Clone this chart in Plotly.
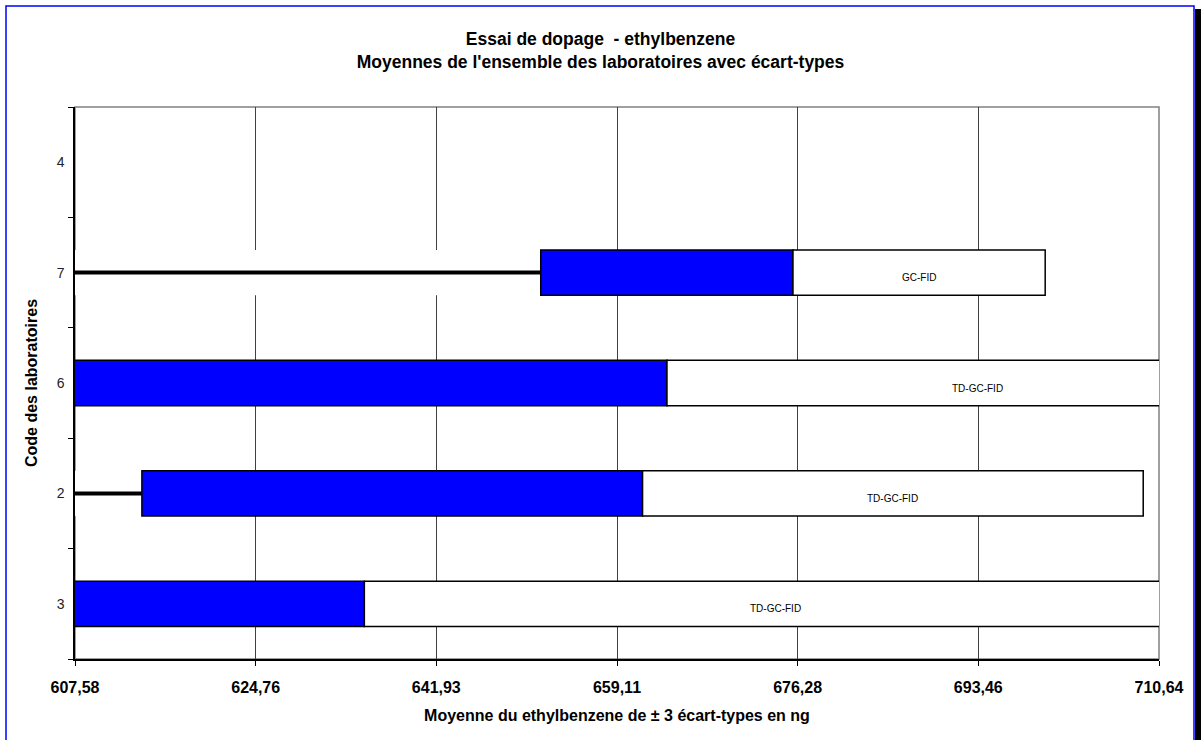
import plotly.graph_objects as go

# ---- data ----
labs = ["3", "2", "6", "7", "4"]                     # bottom -> top
means = [635.09, 661.54, 663.86, 675.84, None]       # mean (ng)
three_sd = [78.24, 47.60, 59.10, 23.98, None]        # 3 x standard deviation
methods = ["TD-GC-FID", "TD-GC-FID", "TD-GC-FID", "GC-FID", ""]
tick_vals = [607.58, 624.76, 641.93, 659.11, 676.28, 693.46, 710.64]
tick_text = ["607,58", "624,76", "641,93", "659,11", "676,28", "693,46", "710,64"]

FONT = "Arial, Liberation Sans, sans-serif"

idx_d = [i for i, m in enumerate(means) if m is not None]
lab_d = [labs[i] for i in idx_d]
mean_d = [means[i] for i in idx_d]
sd_d = [three_sd[i] for i in idx_d]
meth_d = [methods[i] for i in idx_d]
lower = [m - s for m, s in zip(mean_d, sd_d)]

fig = go.Figure()

# invisible (white) base bar from 0 up to the lower bound
fig.add_trace(go.Bar(y=lab_d, x=lower, base=[0] * len(lower), orientation="h",
                     marker=dict(color="white", line=dict(width=0)),
                     showlegend=False, hoverinfo="skip"))
# black line along the base segment
lx, ly = [], []
for l, lo in zip(lab_d, lower):
    lx += [0, lo, None]
    ly += [l, l, None]
fig.add_trace(go.Scatter(x=lx, y=ly, mode="lines", line=dict(color="black", width=4),
                         showlegend=False, hoverinfo="skip"))
# mean - 3sd -> mean (blue)
fig.add_trace(go.Bar(y=lab_d, x=sd_d, base=lower, orientation="h",
                     marker=dict(color="#0000FF", line=dict(color="black", width=1.5)),
                     showlegend=False))
# mean -> mean + 3sd (white)
fig.add_trace(go.Bar(y=lab_d, x=sd_d, base=mean_d, orientation="h",
                     marker=dict(color="white", line=dict(color="black", width=1.5)),
                     showlegend=False))

annotations = []
for i, m, s, t in zip(idx_d, mean_d, sd_d, meth_d):
    annotations.append(dict(x=m + s / 2, y=i, xref="x", yref="y", text=t, showarrow=False,
                            font=dict(family=FONT, size=10, color="black"), yshift=-5))

shapes = [
    # plot area border (gray)
    dict(type="rect", xref="paper", yref="paper", x0=0, x1=1, y0=0, y1=1,
         line=dict(color="#808080", width=1.5), layer="below"),
    # outer frame shadow
    dict(type="rect", xref="paper", yref="paper",
         x0=(1195 - 75) / 1084, x1=(1202 - 75) / 1084,
         y0=(659 - 760) / 552, y1=(659 - 9) / 552,
         line=dict(width=0), fillcolor="black", layer="above"),
    # outer frame (blue)
    dict(type="rect", xref="paper", yref="paper",
         x0=(6 - 75) / 1084, x1=(1194 - 75) / 1084,
         y0=(659 - 760) / 552, y1=(659 - 6) / 552,
         line=dict(color="#0000FF", width=1.5), layer="above"),
]

fig.update_layout(
    width=1201, height=740,
    margin=dict(l=75, r=42, t=107, b=81),
    paper_bgcolor="white", plot_bgcolor="white",
    barmode="overlay", bargap=0.59,
    font=dict(family=FONT, color="black"),
    title=dict(text="<b>Essai de dopage  - ethylbenzene<br>Moyennes de l'ensemble des laboratoires avec écart-types</b>",
               x=0.5, xref="container", xanchor="center",
               y=1 - 45 / 740, yref="container", yanchor="top",
               font=dict(family=FONT, size=17.5, color="black")),
    xaxis=dict(range=[tick_vals[0], tick_vals[-1]], tickmode="array",
               tickvals=tick_vals, ticktext=tick_text,
               tickfont=dict(family=FONT, size=16, color="black", weight="bold"),
               ticklabelstandoff=8,
               showgrid=True, gridcolor="#404040", gridwidth=1,
               showline=True, linecolor="black", linewidth=1.5,
               ticks="outside", ticklen=5, tickcolor="black", zeroline=False,
               title=dict(text="<b>Moyenne du ethylbenzene de ± 3 écart-types en ng</b>",
                          font=dict(family=FONT, size=16, color="black"), standoff=15)),
    yaxis=dict(type="category", categoryorder="array", categoryarray=labs,
               range=[-0.5, len(labs) - 0.5], tickson="boundaries",
               ticks="outside", ticklen=5, tickcolor="black",
               tickfont=dict(family=FONT, size=14, color="#222222"),
               ticklabelstandoff=6,
               showgrid=False, showline=True, linecolor="black", linewidth=1.5,
               title=dict(text="<b>Code des laboratoires</b>",
                          font=dict(family=FONT, size=16, color="black"), standoff=15)),
    annotations=annotations,
    shapes=shapes,
)

fig.write_html("out.html", config={"displayModeBar": False},
               post_script="document.body.style.margin='0px';document.body.style.overflow='hidden';")
